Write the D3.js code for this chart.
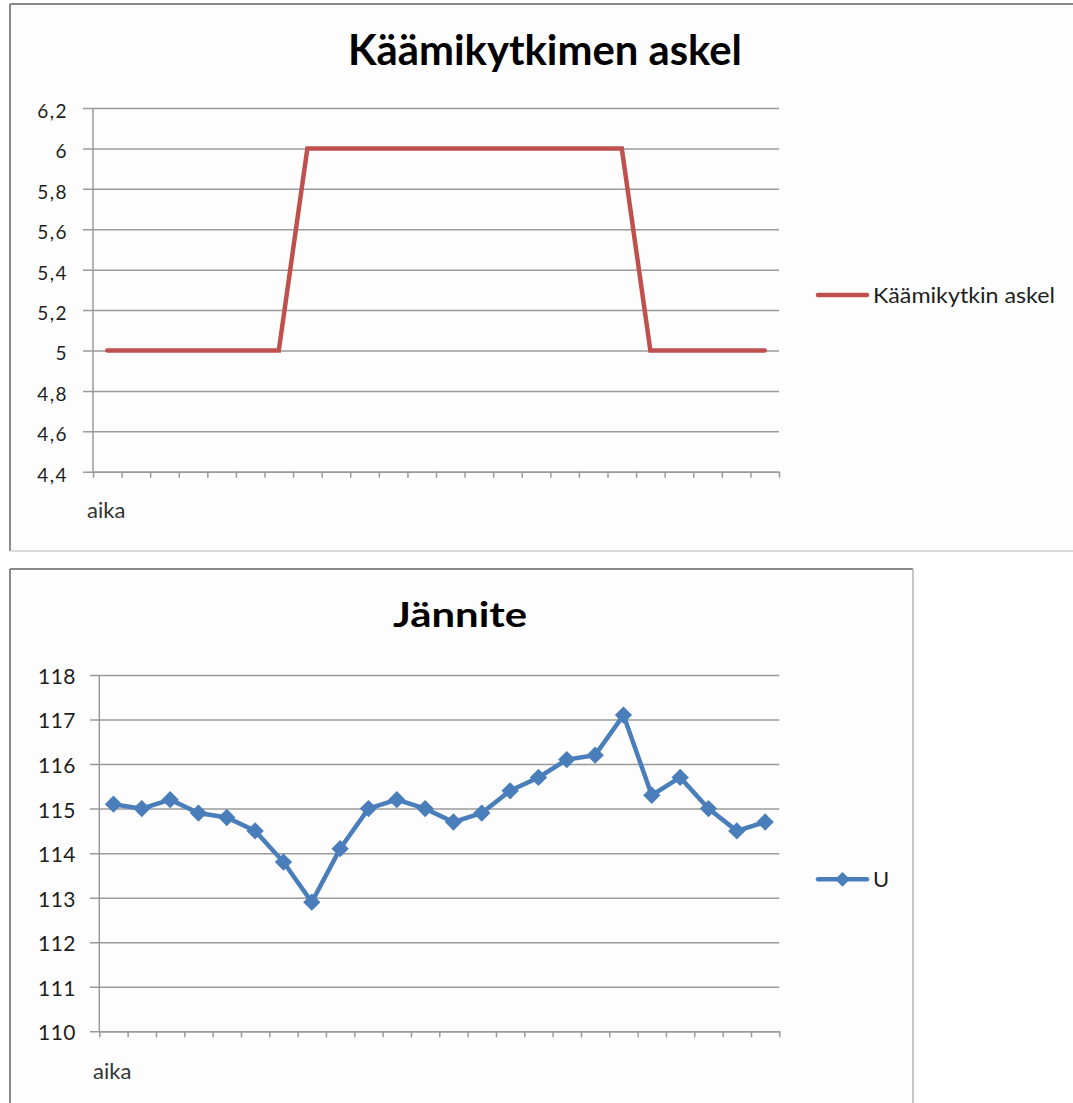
<!DOCTYPE html>
<html>
<head>
<meta charset="utf-8">
<script src="https://cdn.jsdelivr.net/npm/d3@7"></script>
<style>
  html, body { margin: 0; padding: 0; background: #ffffff; }
  svg { display: block; font-family: Lato, "Open Sans", sans-serif; }
</style>
</head>
<body>
<svg id="chart" width="1073" height="1103"></svg>
<script>
// Time steps (unlabelled category axis "aika")
const timeSteps = [1, 2, 3, 4, 5, 6, 7, 8, 9, 10, 11, 12, 13, 14, 15, 16, 17, 18, 19, 20, 21, 22, 23, 24];

// Tap changer step per time step
const tapStep = [5, 5, 5, 5, 5, 5, 5, 6, 6, 6, 6, 6, 6, 6, 6, 6, 6, 6, 6, 5, 5, 5, 5, 5];

// Voltage U per time step
const voltage = [115.1, 115.0, 115.2, 114.9, 114.8, 114.5, 113.8, 112.9, 114.1, 115.0, 115.2, 115.0,
                 114.7, 114.9, 115.4, 115.7, 116.1, 116.2, 117.1, 115.3, 115.7, 115.0, 114.5, 114.7];

// Axis tick values
const stepTicks = [4.4, 4.6, 4.8, 5, 5.2, 5.4, 5.6, 5.8, 6, 6.2];
const voltTicks = [110, 111, 112, 113, 114, 115, 116, 117, 118];

const titles = ["Käämikytkimen askel", "Jännite"];
const seriesNames = ["Käämikytkin askel", "U"];
const xTitle = "aika";

const RED = "#C0504D";
const BLUE = "#4A7EBB";
const GRID = "#9a9a9a";
const TEXT = "#1e1e1e";

const fi = d3.formatLocale({ decimal: ",", thousands: "\u00a0", grouping: [3], currency: ["", " €"] });
const fmtStep = fi.format("~g");
const fmtVolt = fi.format("d");

const svg = d3.select("#chart");

// ---------- frames ----------
const frames = svg.append("g");
// upper chart area (runs past the right edge)
frames.append("rect").attr("x", 10).attr("y", 4).attr("width", 1100).attr("height", 547)
  .attr("fill", "#fdfdfd").attr("stroke", "none");
frames.append("line").attr("x1", 10).attr("x2", 1073).attr("y1", 4).attr("y2", 4)
  .attr("stroke", "#8a8a8a").attr("stroke-width", 2);
frames.append("line").attr("x1", 10).attr("x2", 10).attr("y1", 4).attr("y2", 551)
  .attr("stroke", "#8a8a8a").attr("stroke-width", 2);
frames.append("line").attr("x1", 10).attr("x2", 1073).attr("y1", 551).attr("y2", 551)
  .attr("stroke", "#cfcfcf").attr("stroke-width", 1.5);
// lower chart area (runs past the bottom edge)
frames.append("rect").attr("x", 10).attr("y", 569).attr("width", 903).attr("height", 600)
  .attr("fill", "#fdfdfd").attr("stroke", "none");
frames.append("line").attr("x1", 10).attr("x2", 913).attr("y1", 569).attr("y2", 569)
  .attr("stroke", "#8a8a8a").attr("stroke-width", 2);
frames.append("line").attr("x1", 10).attr("x2", 10).attr("y1", 569).attr("y2", 1103)
  .attr("stroke", "#8a8a8a").attr("stroke-width", 2);
frames.append("line").attr("x1", 913).attr("x2", 913).attr("y1", 569).attr("y2", 1103)
  .attr("stroke", "#b5b5b5").attr("stroke-width", 1.5);

// fit text width to a target length while keeping its height
function fitWidth(sel, target) {
  const w = sel.node().getComputedTextLength();
  if (Math.abs(w - target) > 2) sel.attr("textLength", target).attr("lengthAdjust", "spacingAndGlyphs");
}

// ---------- generic category line chart ----------
function drawChart(cfg) {
  const g = svg.append("g");
  const x = d3.scaleLinear().domain([0, cfg.cats.length]).range([cfg.left, cfg.right]);
  const y = d3.scaleLinear().domain(cfg.yDomain).range([cfg.bottom, cfg.top]);
  const cx = i => x(i + 0.5);

  // gridlines + y labels
  const yAxis = g.append("g")
    .attr("transform", `translate(${cfg.gridStart},0)`)
    .call(d3.axisLeft(y).tickValues(cfg.yTicks).tickFormat(cfg.fmt)
      .tickSizeInner(-(cfg.right - cfg.gridStart)).tickSizeOuter(0).tickPadding(cfg.labelPad));
  yAxis.select(".domain").remove();
  yAxis.selectAll(".tick line").attr("stroke", GRID).attr("stroke-width", 1.5);
  yAxis.selectAll(".tick text")
    .attr("fill", TEXT).attr("font-size", cfg.labelSize).attr("dy", cfg.labelDy)
    .attr("letter-spacing", cfg.labelSpacing).attr("font-family", "Lato, sans-serif");

  // vertical axis line
  g.append("line").attr("x1", cfg.left).attr("x2", cfg.left)
    .attr("y1", cfg.top).attr("y2", cfg.bottom)
    .attr("stroke", GRID).attr("stroke-width", 1.5);

  // category axis with tick marks at category boundaries
  const xAxis = g.append("g")
    .attr("transform", `translate(0,${cfg.bottom})`)
    .call(d3.axisBottom(x).tickValues(d3.range(0, cfg.cats.length + 1)).tickFormat("")
      .tickSizeInner(6).tickSizeOuter(0));
  xAxis.select(".domain").attr("stroke", GRID).attr("stroke-width", 1.5);
  xAxis.selectAll(".tick line").attr("stroke", GRID).attr("stroke-width", 1.5);

  // axis title
  g.append("text").attr("x", cfg.xTitleX).attr("y", cfg.xTitleY)
    .attr("font-size", cfg.xTitleSize).attr("fill", "#333").text(xTitle);

  // chart title
  const t = g.append("text").attr("x", cfg.titleX).attr("y", cfg.titleY)
    .attr("text-anchor", "middle").attr("font-weight", 700)
    .attr("font-size", cfg.titleSize).attr("fill", "#000").text(cfg.title);
  fitWidth(t, cfg.titleW);

  // series line
  const line = d3.line().x((d, i) => cx(i)).y(d => y(d));
  g.append("path").datum(cfg.values)
    .attr("d", line).attr("fill", "none").attr("stroke", cfg.color)
    .attr("stroke-width", 4.5).attr("stroke-linejoin", "miter").attr("stroke-linecap", "round");

  if (cfg.markers) {
    const sym = d3.symbol(d3.symbolSquare, 150);
    g.selectAll(".mk").data(cfg.values).join("path").attr("class", "mk")
      .attr("d", sym)
      .attr("transform", (d, i) => `translate(${cx(i)},${y(d)}) rotate(45)`)
      .attr("fill", cfg.color);
  }

  // legend
  const lg = g.append("g");
  lg.append("line").attr("x1", 818).attr("x2", 867).attr("y1", cfg.legendY).attr("y2", cfg.legendY)
    .attr("stroke", cfg.color).attr("stroke-width", 4.5).attr("stroke-linecap", "round");
  if (cfg.markers) {
    lg.append("path").attr("d", d3.symbol(d3.symbolSquare, 110)())
      .attr("transform", `translate(842.5,${cfg.legendY}) rotate(45)`).attr("fill", cfg.color);
  }
  const lt = lg.append("text").attr("x", 873).attr("y", cfg.legendY + cfg.legendDy)
    .attr("font-size", cfg.legendSize).attr("fill", TEXT).text(cfg.name);
  if (cfg.legendW) fitWidth(lt, cfg.legendW);
}

drawChart({
  cats: timeSteps, values: tapStep, yDomain: [4.4, 6.2], yTicks: stepTicks, fmt: fmtStep,
  left: 93, right: 779, top: 108, bottom: 471.7, gridStart: 83,
  labelPad: 15, labelSize: 19, labelDy: "0.5em", labelSpacing: 1.5,
  xTitleX: 87, xTitleY: 518, xTitleSize: 22,
  title: titles[0], titleX: 545, titleY: 65, titleSize: 42, titleW: 394,
  color: RED, markers: false, name: seriesNames[0],
  legendY: 295, legendDy: 7.5, legendSize: 21, legendW: 182
});

drawChart({
  cats: timeSteps, values: voltage, yDomain: [110, 118], yTicks: voltTicks, fmt: fmtVolt,
  left: 99.3, right: 779.3, top: 675, bottom: 1031.3, gridStart: 90,
  labelPad: 14, labelSize: 21, labelDy: "0.4em", labelSpacing: 0.5,
  xTitleX: 93, xTitleY: 1079, xTitleSize: 22,
  title: titles[1], titleX: 460, titleY: 627, titleSize: 34, titleW: 134,
  color: BLUE, markers: true, name: seriesNames[1],
  legendY: 879.3, legendDy: 8, legendSize: 22
});
</script>
</body>
</html>
